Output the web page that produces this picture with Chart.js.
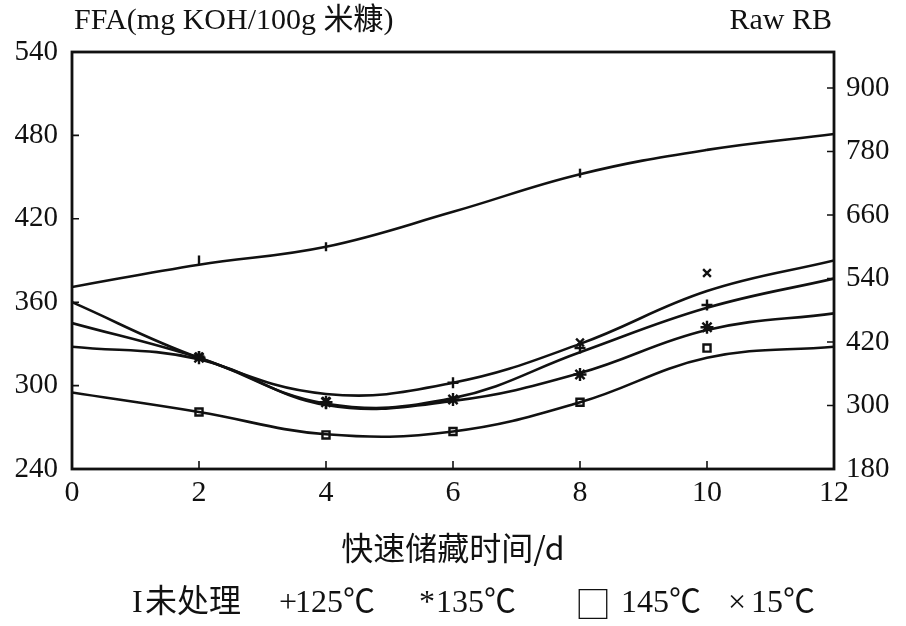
<!DOCTYPE html>
<html><head><meta charset="utf-8">
<script src="https://cdn.jsdelivr.net/npm/chart.js@4.4.0/dist/chart.umd.min.js"></script>
<style>html,body{margin:0;padding:0;background:#fff}#wrap{width:906px;height:626px;position:relative}</style>
</head><body><div id="wrap"><canvas id="c" width="906" height="626"></canvas></div>
<script>
// ---- data ----
const days = [0, 2, 4, 6, 8, 10, 12];
const leftTicks = [240, 300, 360, 420, 480, 540];
const rightTicks = [180, 300, 420, 540, 660, 780, 900];
const xTicks = [0, 2, 4, 6, 8, 10, 12];
// fitted curves
const rawCurve = [524, 566, 600, 666, 737, 783, 813];   // right axis (Raw RB)
const curve15  = [360, 320, 294, 302, 330, 368, 390];
const curve125 = [345, 320, 287, 291, 324, 356, 377];
const curve135 = [328, 319, 286, 289, 309, 340, 352];
const curve145 = [295, 281, 265, 267, 288, 320, 328];
// measured points (markers)
const rawPts = [null, 575, 600, null, 739, null, null];
const pts15  = [null, 321, 289, null, 331, 381, null];
const pts125 = [null, 321, 287, 302, 327, 358, null];
const pts135 = [null, 320, 288, 290, 308, 342, null];
const pts145 = [null, 281, 264.5, 267, 288, 327, null];
const seriesNames = ['未处理', '125℃', '135℃', '145℃', '15℃'];
const seriesMarks = ['I', '+', '*', '□', '×'];
const leftTitle = 'FFA(mg KOH/100g 米糠)';
const rightTitle = 'Raw RB';
const xTitle = '快速储藏时间/d';

const INK = '#111';
const SERIF = "'Liberation Serif', 'Noto Sans CJK SC', serif";
const CJK = "'Noto Sans CJK SC', sans-serif";

function xy(arr) { return days.map((d, i) => ({x: d, y: arr[i]})); }

function curveDs(arr, axis) {
  return {data: xy(arr), yAxisID: axis, borderColor: INK, borderWidth: 2.6,
    pointRadius: 0, tension: 0.4, fill: false};
}
function markDs(arr, axis, style, r, rot) {
  return {data: xy(arr), yAxisID: axis, showLine: false, pointStyle: style,
    pointRadius: r, pointRotation: rot || 0, pointBorderColor: INK,
    pointBackgroundColor: '#fff', pointBorderWidth: 2.4};
}

const datasets = [
  curveDs(rawCurve, 'y1'), curveDs(curve15, 'y'), curveDs(curve125, 'y'),
  curveDs(curve135, 'y'), curveDs(curve145, 'y'),
  markDs(rawPts, 'y1', 'line', 4.5, 90),
  markDs(pts125, 'y', 'cross', 5.5),
  markDs(pts135, 'y', 'star', 6.5),
  markDs(pts145, 'y', 'rect', 5),
  markDs(pts15, 'y', 'crossRot', 5.5),
];

const legendPos = [
  {mx: 132, tx: 145}, {mx: 279, tx: 295}, {mx: 419, tx: 436},
  {mx: 575, tx: 621}, {mx: 728, tx: 751}
];

const decor = {
  id: 'decor',
  afterDraw(chart) {
    const ctx = chart.ctx, a = chart.chartArea;
    const sy = chart.scales.y, sy1 = chart.scales.y1, sx = chart.scales.x;
    ctx.save();
    ctx.strokeStyle = INK; ctx.lineWidth = 2.8;
    ctx.strokeRect(a.left, a.top, a.right - a.left, a.bottom - a.top);
    ctx.lineWidth = 1.6;
    ctx.beginPath();
    leftTicks.forEach(v => { const p = sy.getPixelForValue(v); ctx.moveTo(a.left, p); ctx.lineTo(a.left + 7, p); });
    rightTicks.forEach(v => { const p = sy1.getPixelForValue(v); ctx.moveTo(a.right, p); ctx.lineTo(a.right - 7, p); });
    xTicks.forEach(v => { const p = sx.getPixelForValue(v); ctx.moveTo(p, a.bottom); ctx.lineTo(p, a.bottom - 8); });
    ctx.stroke();
    // top titles
    ctx.fillStyle = INK;
    ctx.textBaseline = 'middle';
    ctx.font = "30px " + SERIF;
    ctx.textAlign = 'left';
    ctx.fillText(leftTitle, 74, 21);
    ctx.textAlign = 'right';
    ctx.fillText(rightTitle, 832, 21);
    // legend
    ctx.textAlign = 'left';
    seriesNames.forEach((n, i) => {
      const p = legendPos[i];
      ctx.font = (seriesMarks[i] === '□' ? "36px " + CJK : "32px " + SERIF);
      ctx.fillText(seriesMarks[i], p.mx, 604);
      ctx.font = "32px " + SERIF;
      ctx.fillText(n, p.tx, 604);
    });
    ctx.restore();
  }
};

new Chart(document.getElementById('c'), {
  type: 'line',
  data: {datasets},
  plugins: [decor],
  options: {
    responsive: false, animation: false,
    layout: {padding: {top: 52, left: 0, right: 0, bottom: 0}},
    plugins: {legend: {display: false}, tooltip: {enabled: false}},
    scales: {
      x: {type: 'linear', min: 0, max: 12,
        afterFit(s) { s.height = 157; },
        afterBuildTicks(s) { s.ticks = xTicks.map(v => ({value: v})); },
        ticks: {stepSize: 2, padding: 6, color: INK, font: {family: SERIF, size: 30}},
        grid: {display: false, drawTicks: false}, border: {display: false},
        title: {display: true, text: xTitle, color: INK, font: {family: CJK, size: 32},
          padding: {top: 0, bottom: 59}}},
      y: {type: 'linear', position: 'left', min: 240, max: 540,
        afterFit(s) { s.width = 72; },
        afterBuildTicks(s) { s.ticks = leftTicks.map(v => ({value: v})); },
        ticks: {padding: 14, color: INK, font: {family: SERIF, size: 29}},
        grid: {display: false, drawTicks: false}, border: {display: false}},
      y1: {type: 'linear', position: 'right', min: 180, max: 968,
        afterFit(s) { s.width = 72; },
        afterBuildTicks(s) { s.ticks = rightTicks.map(v => ({value: v})); },
        ticks: {padding: 12, color: INK, font: {family: SERIF, size: 29}},
        grid: {display: false, drawTicks: false}, border: {display: false}}
    }
  }
});
</script>
</body></html>
